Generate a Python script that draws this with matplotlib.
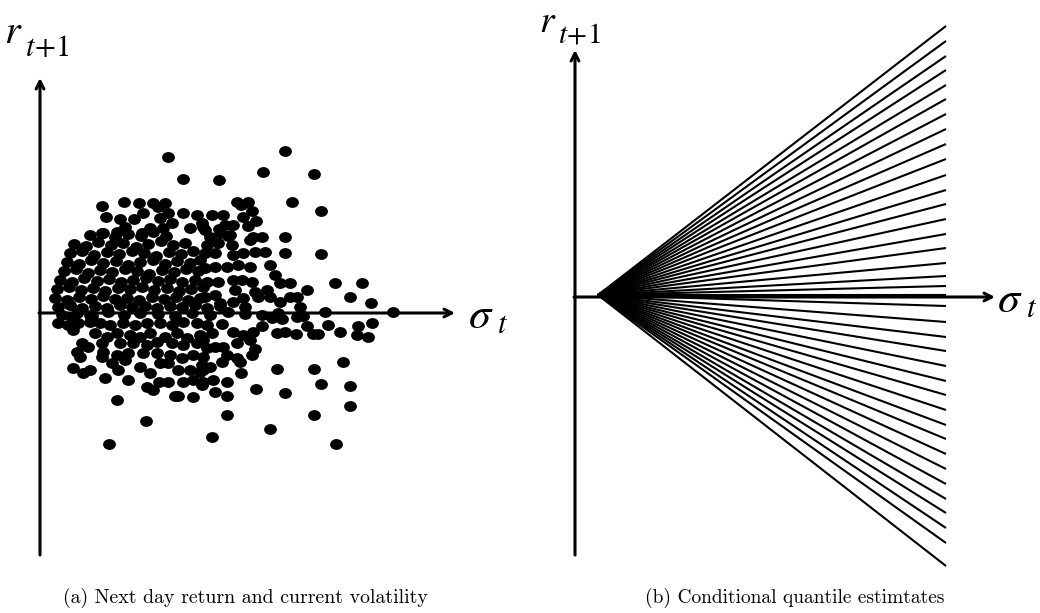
import matplotlib
matplotlib.use("Agg")
import matplotlib.pyplot as plt
from matplotlib.path import Path
from matplotlib.transforms import Affine2D

plt.rcParams['mathtext.fontset'] = 'stix'

# ---------------- data: panel (a) scatter (sigma_t, r_{t+1}) in arbitrary units ----------------
# sparse / outer points
sig_outer = [128, 143, 245, 179, 223, 274, 252, 281,
             62, 84, 99, 113, 125, 118, 66, 80, 103, 94, 128, 143, 157, 120, 132, 85, 62, 77, 110, 102, 123, 150, 163,
             197, 208, 201, 212, 172, 183, 203, 216, 193, 185, 179, 208, 190, 245, 213, 222, 162, 165,
             245, 281, 295, 322, 310, 331, 285, 353, 267, 257, 230, 235, 240, 250, 227, 250, 260, 225, 215, 203, 193,
             175, 165, 210, 198, 187, 175, 165, 212, 202, 193, 178, 167, 195, 215, 218, 230, 240, 203, 175, 165, 180,
             193, 205, 188, 192, 178, 167, 180, 170, 210,
             182, 193, 203, 213, 222, 232, 242, 257, 263, 267, 288, 318, 332, 237, 245, 256, 273, 278, 300, 317, 328,
             210, 197, 163, 172, 215, 212, 167, 175, 183, 187, 197, 200, 182, 170, 162, 163, 201, 237, 274, 303, 173,
             187, 162, 175, 187, 216, 245, 281, 310, 310, 187, 274, 230, 172, 296,
             77, 106, 69, 33, 43, 50, 65, 78, 88, 107, 113, 119, 135, 138, 153, 128, 143, 153, 163, 138, 150, 160,
             100, 110, 120, 128, 40, 62, 72, 85, 37, 42, 48, 63, 77, 88, 103, 117, 130, 142, 153, 163, 132, 143, 157,
             18, 28, 38, 50, 60, 70, 83, 95, 107, 120, 132, 143, 157, 167, 33, 55, 67, 77, 90, 100, 110, 125, 137,
             147, 160, 62, 80, 93, 107, 117, 32, 50]
r_outer = [156, 134, 162, 133, 141, 139, 111, 102,
           107, 111, 110, 110, 110, 106, 96, 94, 100, 94, 100, 100, 98, 95, 90, 86, 80, 81, 85, 80, 85, 85, 86,
           111, 111, 108, 102, 98, 98, 96, 92, 88, 88, 84, 87, 78, 76, 76, 76, 90, 83,
           60, 59, 30, 30, 16, 10, 1, 1, 23, 16, 48, 38, 30, 30, 23, 16, 6, 61, 61, 60, 58,
           60, 60, 46, 48, 46, 46, 45, 31, 33, 33, 31, 31, 23, 21, 16, 16, 11, 15, 18, 16, 10,
           11, 6, 77, 68, 70, 68, 80, 76, 73,
           -11, -19, -22, -19, -13, -5, -6, -4, -3, -13, -12, -13, -10, -20, -19, -21, -21, -21, -19, -22, -24,
           -27, -30, -27, -20, -36, -42, -35, -34, -34, -42, -45, -49, -49, -54, -52, -57, -60, -56, -56, -49, -67,
           -69, -72, -79, -83, -76, -80, -71, -73, -93, -102, -102, -116, -124, -131,
           -87, -108, -131, -55, -60, -57, -65, -57, -67, -74, -77, -69, -83, -83, -84, -69, -69, -67, -69, -57, -57,
           -59, -54, -60, -50, -50, -44, -44, -50, -47, -39, -30, -34, -39, -42, -40, -40, -40, -42, -45, -42, -44,
           -30, -32, -30,
           -10, -12, -10, -9, -10, -12, -10, -12, -10, -10, -12, -9, -10, -12, -17, -20, -24, -20, -22, -24, -20,
           -24, -20, -25, -22, -30, -30, -30, -32, -29, -4, -2]

# dense core of the cloud
sig_core = [50, 63, 75, 88, 101, 113, 126,
            34, 46, 58, 71, 83, 96, 108, 121, 133, 145,
            30, 42, 54, 67, 79, 92, 104, 116, 129, 141, 153,
            27, 39, 51, 63, 76, 88, 100, 113, 125, 137, 150, 160,
            24, 36, 48, 60, 72, 85, 97, 109, 122, 134, 146, 158,
            20, 32, 44, 57, 69, 81, 93, 106, 118, 130, 142, 155,
            17, 29, 41, 53, 65, 78, 90, 102, 114, 127, 139, 151, 163,
            15, 27, 39, 51, 63, 75, 87, 99, 112, 124, 136, 148, 160,
            18, 30, 42, 55, 67, 80, 92, 105, 117, 130, 142, 155, 167, 180,
            22, 37, 52, 68, 84, 100, 118, 135, 152, 170, 188, 205, 222, 238]
r_core = [78, 80, 76, 79, 77, 81, 77,
          69, 67, 71, 68, 70, 66, 69, 72, 68, 70,
          60, 62, 58, 61, 59, 62, 60, 57, 61, 59, 62,
          51, 49, 53, 50, 52, 48, 51, 53, 49, 52, 50, 53,
          42, 44, 40, 43, 41, 44, 42, 39, 43, 41, 44, 42,
          33, 31, 35, 32, 34, 31, 33, 35, 32, 34, 31, 33,
          24, 26, 23, 25, 22, 25, 24, 26, 23, 25, 22, 24, 26,
          15, 13, 16, 14, 17, 14, 15, 13, 16, 14, 16, 13, 15,
          6, 8, 5, 7, 5, 8, 6, 7, 5, 7, 6, 8, 5, 7,
          -2, 0, -3, 1, -2, 0, -1, -3, 0, -2, 1, -1, -2, 0]

# ---------------- data: panel (b) fan of conditional quantile lines ----------------
fan_sigma_start = 23
fan_r_start = 2
fan_sigma_end = 371
fan_r_end = [271, 256, 241, 227, 212, 198, 183, 168, 153, 138, 122, 107, 93, 78, 63, 49, 34, 21, 11, 2,
             -9, -25, -40, -54, -69, -84, -98, -113, -128, -142, -157, -172, -187, -202, -216, -231, -246, -269]

caption_a = "(a) Next day return and current volatility"
caption_b = "(b) Conditional quantile estimtates"

# ---------------- figure ----------------
W, H = 1040, 613
fig = plt.figure(figsize=(W / 100, H / 100), dpi=100)
fig.patch.set_facecolor('white')

axL = fig.add_axes([0, 0, 520 / W, 1])
axR = fig.add_axes([520 / W, 0, 520 / W, 1])
axL.set_xlim(-40, 480)
axL.set_ylim(313 - H, 313)
axR.set_xlim(-55, 465)
axR.set_ylim(297 - H, 297)
for ax in (axL, axR):
    ax.set_axis_off()

arrow_kw = dict(arrowstyle='->,head_length=0.55,head_width=0.28', lw=2.2, color='black',
                shrinkA=0, shrinkB=0)

# left axes
axL.annotate('', xy=(0, 235), xytext=(0, -242), arrowprops=arrow_kw)
axL.annotate('', xy=(415, 0), xytext=(-1, 0), arrowprops=arrow_kw)
# right axes
axR.annotate('', xy=(0, 247), xytext=(0, -258), arrowprops=arrow_kw)
axR.annotate('', xy=(420, 0), xytext=(-1, 0), arrowprops=arrow_kw)

# scatter
ell = Path.unit_circle().transformed(Affine2D().scale(1.18, 1.0))
axL.scatter(sig_core, r_core, s=85, marker=ell, color='black', linewidths=0, zorder=3)
axL.scatter(sig_outer, r_outer, s=85, marker=ell, color='black', linewidths=0, zorder=3)

# fan
for re in fan_r_end:
    axR.plot([fan_sigma_start, fan_sigma_end], [fan_r_start, re], color='black', lw=1.5,
             solid_capstyle='butt', zorder=2)

# axis labels
axL.text(-36, 270, r'$r$', fontsize=29, ha='left', va='baseline')
axL.text(-15, 257, r'$t\!+\!1$', fontsize=22, ha='left', va='baseline')
axL.text(428, -15, r'$\sigma$', fontsize=32, ha='left', va='baseline')
axL.text(457, -20, r'$t$', fontsize=22, ha='left', va='baseline')

axR.text(-36, 265, r'$r$', fontsize=27, ha='left', va='baseline')
axR.text(-17, 254, r'$t\!+\!1$', fontsize=21, ha='left', va='baseline')
axR.text(422, -15, r'$\sigma$', fontsize=32, ha='left', va='baseline')
axR.text(451, -20, r'$t$', fontsize=22, ha='left', va='baseline')

# captions
fig.text(245 / W, 1 - 603 / H, caption_a, fontfamily='cmr10', fontsize=14.3, ha='center', va='baseline')
fig.text(795 / W, 1 - 603 / H, caption_b, fontfamily='cmr10', fontsize=14, ha='center', va='baseline')

fig.savefig('out.png', dpi=100, facecolor='white')
